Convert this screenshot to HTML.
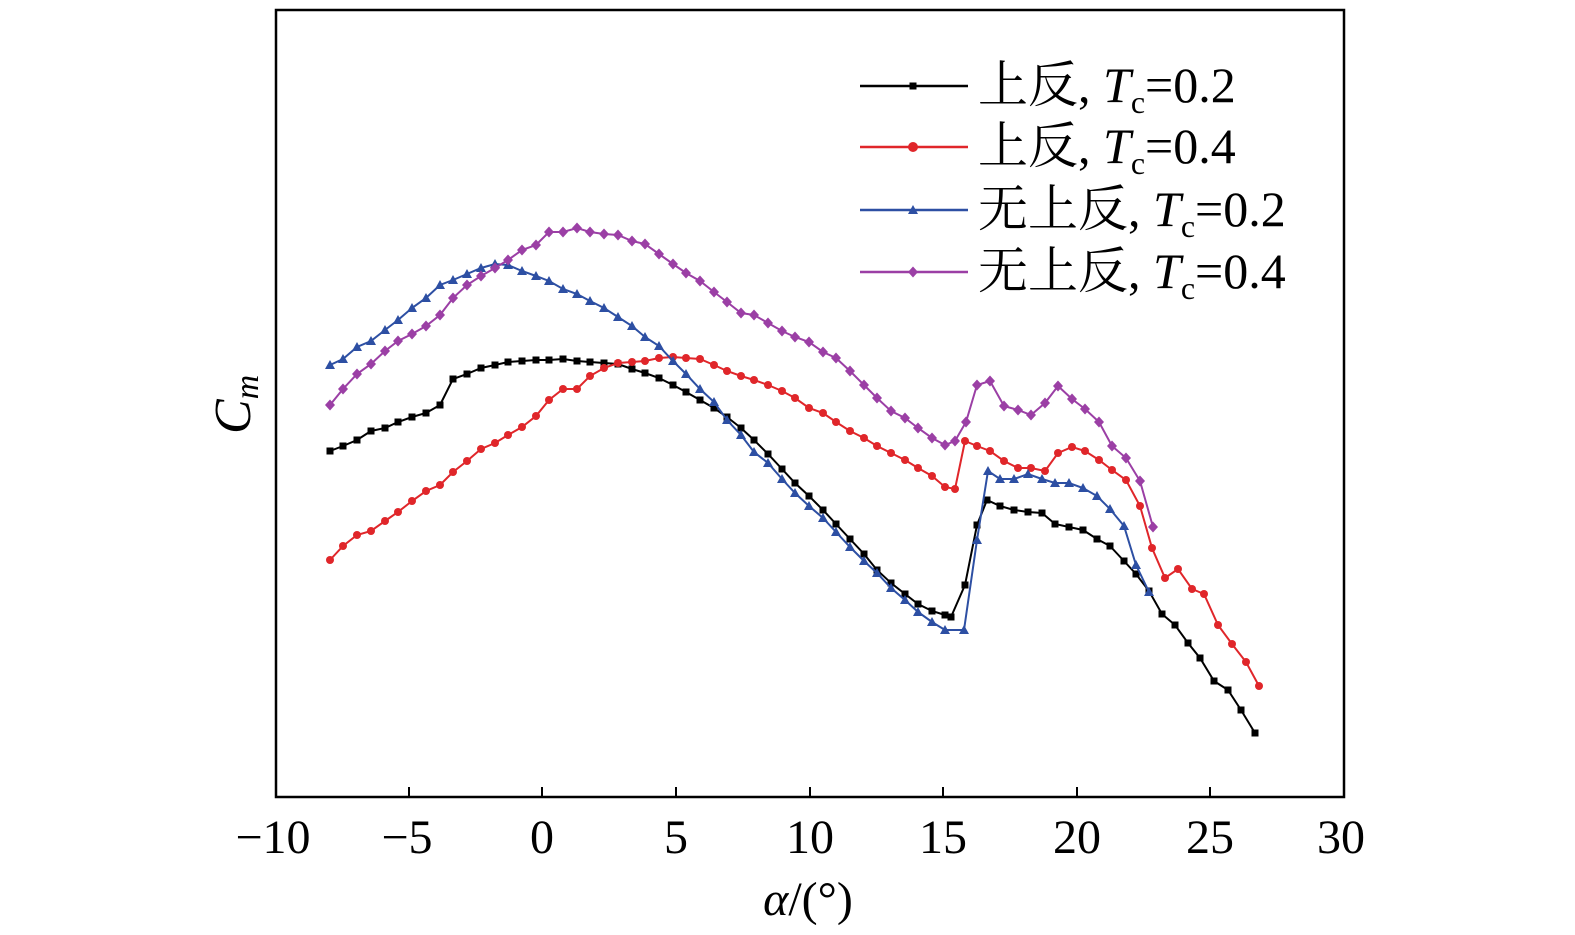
<!DOCTYPE html><html><head><style>body{margin:0;background:#fff}svg{display:block}text{font-family:"Liberation Serif","Noto Serif CJK SC",serif}</style></head><body>
<svg id="s" width="1575" height="935" xmlns="http://www.w3.org/2000/svg">
<rect x="276" y="10" width="1068" height="787" fill="none" stroke="#000" stroke-width="2.5"/>
<g stroke="#000" stroke-width="2">
<line x1="409" y1="797" x2="409" y2="787"/><line x1="542" y1="797" x2="542" y2="787"/><line x1="676" y1="797" x2="676" y2="787"/><line x1="810" y1="797" x2="810" y2="787"/><line x1="943" y1="797" x2="943" y2="787"/><line x1="1077" y1="797" x2="1077" y2="787"/><line x1="1210" y1="797" x2="1210" y2="787"/>
</g>
<g font-size="48" text-anchor="middle" fill="#000">
<text x="273" y="853">−10</text><text x="407" y="853">−5</text><text x="542" y="853">0</text><text x="676" y="853">5</text><text x="810" y="853">10</text><text x="943" y="853">15</text><text x="1077" y="853">20</text><text x="1210" y="853">25</text><text x="1341" y="853">30</text>
<text x="808" y="915" font-style="italic">α<tspan font-style="normal">/(°)</tspan></text>
</g>
<text x="0" y="0" font-size="52" font-style="italic" transform="translate(250,434) rotate(-90)">C<tspan font-size="34" dy="8">m</tspan></text>
<g id="g"></g>
<g font-size="50" fill="#000">
<text x="978" y="102">上反, <tspan font-style="italic">T</tspan><tspan font-size="32" dy="11">c</tspan><tspan dy="-11">=0.2</tspan></text>
<text x="978" y="163">上反, <tspan font-style="italic">T</tspan><tspan font-size="32" dy="11">c</tspan><tspan dy="-11">=0.4</tspan></text>
<text x="978" y="226">无上反, <tspan font-style="italic">T</tspan><tspan font-size="32" dy="11">c</tspan><tspan dy="-11">=0.2</tspan></text>
<text x="978" y="288">无上反, <tspan font-style="italic">T</tspan><tspan font-size="32" dy="11">c</tspan><tspan dy="-11">=0.4</tspan></text>
</g>
</svg>
<script>
var S=[
["#000","sq",[330,451,343,446,357,440,371,431,385,428,398,422,412,417,426,413,440,405,453,379,467,374,481,368,495,365,508,362,522,361,536,360,549,360,563,359,577,361,590,362,604,363,618,364,632,369,645,373,659,378,673,385,686,392,700,400,714,408,727,417,741,428,754,440,768,454,782,469,795,483,809,496,823,510,836,524,850,539,864,554,877,570,891,583,905,594,918,604,932,611,945,615,951,617,965,585,977,525,987,500,1000,506,1014,510,1028,512,1042,513,1055,524,1069,527,1083,530,1097,539,1110,546,1124,561,1136,574,1149,591,1162,614,1175,625,1188,643,1200,658,1214,681,1228,690,1241,710,1255,733],86],
["#e0262a","ci",[330,560,343,546,357,535,371,531,385,521,398,512,412,501,426,491,440,485,453,472,467,461,481,449,495,443,508,435,522,427,536,416,549,400,563,389,577,389,590,376,604,368,618,363,632,362,645,361,659,358,673,357,686,358,700,359,714,365,727,371,741,376,754,380,768,385,782,391,795,398,809,408,823,413,836,422,850,431,864,438,877,446,891,453,905,460,918,468,932,476,945,487,955,489,965,441,977,446,990,451,1004,461,1018,468,1031,468,1045,471,1058,453,1072,447,1085,451,1099,460,1112,470,1126,480,1140,506,1152,548,1165,578,1178,569,1192,589,1204,594,1218,625,1232,644,1246,662,1259,686],147],
["#2d4fa3","tr",[330,365,343,359,357,347,371,341,385,330,398,320,412,308,426,298,440,285,453,280,467,274,481,268,495,264,508,265,522,271,536,276,549,281,563,289,577,294,590,301,604,308,618,317,632,326,645,337,659,346,673,361,686,374,700,389,714,402,727,420,741,435,754,452,768,463,782,479,795,493,809,506,823,518,836,532,850,547,864,561,877,573,891,588,905,600,918,612,932,622,945,630,964,630,977,540,988,471,1000,479,1014,479,1028,474,1042,479,1055,483,1069,483,1083,488,1097,496,1110,509,1124,526,1136,565,1149,592],210],
["#9b3fa5","di",[330,405,343,389,357,374,371,364,385,351,398,341,412,334,426,326,440,315,453,298,467,285,481,276,495,268,508,260,522,250,536,245,549,232,563,232,577,228,590,232,604,234,618,235,632,241,645,244,659,254,673,264,686,273,700,281,714,292,727,302,741,313,754,315,768,323,782,331,795,337,809,342,823,352,836,358,850,371,864,385,877,398,891,411,905,418,918,428,932,438,945,445,955,441,966,422,977,385,990,381,1004,406,1018,410,1031,415,1045,403,1058,386,1072,399,1085,409,1099,422,1112,446,1126,458,1140,481,1153,527],272]];
var h="";
function mk(t,x,y,c){if(t=="sq")return '<rect x="'+(x-3.5)+'" y="'+(y-3.5)+'" width="7" height="7" fill="'+c+'"/>';
if(t=="ci")return '<circle cx="'+x+'" cy="'+y+'" r="4" fill="'+c+'"/>';
if(t=="tr")return '<polygon points="'+x+','+(y-5)+' '+(x-5)+','+(y+4)+' '+(x+5)+','+(y+4)+'" fill="'+c+'"/>';
return '<polygon points="'+x+','+(y-5.5)+' '+(x+5)+','+y+' '+x+','+(y+5.5)+' '+(x-5)+','+y+'" fill="'+c+'"/>';}
S.forEach(function(s){var p=s[2],pts=[];for(var i=0;i<p.length;i+=2)pts.push(p[i]+","+p[i+1]);
h+='<polyline points="'+pts.join(" ")+'" fill="none" stroke="'+s[0]+'" stroke-width="2"/>';
for(var i=0;i<p.length;i+=2)h+=mk(s[1],p[i],p[i+1],s[0]);
h+='<line x1="860" y1="'+s[3]+'" x2="968" y2="'+s[3]+'" stroke="'+s[0]+'" stroke-width="2.5"/>'+mk(s[1],913,s[3],s[0]).replace(/r="4"/,'r="5"');});
document.getElementById("g").innerHTML=h;
</script>
</body></html>
